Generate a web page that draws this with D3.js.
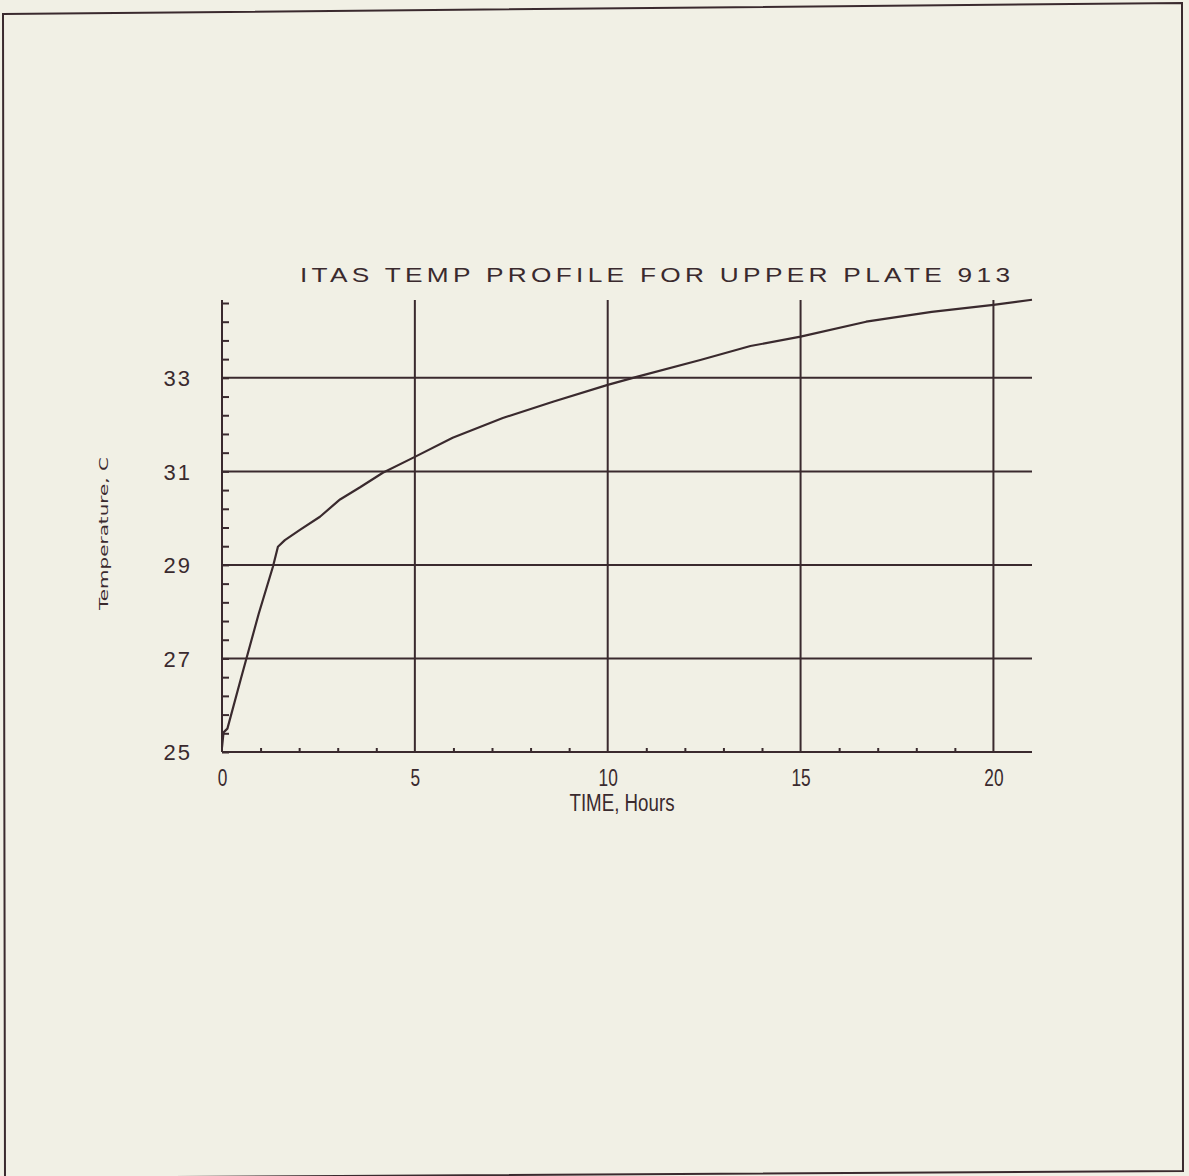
<!DOCTYPE html>
<html>
<head>
<meta charset="utf-8">
<script src="https://cdn.jsdelivr.net/npm/d3@7"></script>
<style>
  html, body { margin: 0; padding: 0; background: #f1f0e5; }
  svg { display: block; }
</style>
</head>
<body>
<svg id="chart" width="1189" height="1176"></svg>
<script>
// ---- data ----
const title = "ITAS TEMP PROFILE FOR UPPER PLATE 913";
const xLabel = "TIME, Hours";
const yLabel = "Temperature, C";
const timeHours = [0, 0.04, 0.14, 0.5, 0.95, 1.32, 1.45, 1.63, 2.02, 2.54, 3.06, 3.58, 4.17, 5.0, 5.98, 7.28, 8.58, 10.0, 10.75, 12.4, 13.7, 15.0, 16.7, 18.4, 20.0, 21.0];
const temperature = [25.1, 25.42, 25.5, 26.6, 27.95, 28.96, 29.39, 29.53, 29.75, 30.03, 30.4, 30.66, 30.97, 31.31, 31.72, 32.14, 32.49, 32.85, 33.02, 33.38, 33.68, 33.88, 34.2, 34.41, 34.56, 34.67];
const xMajorTicks = [0, 5, 10, 15, 20];
const xMinorTicks = d3.range(1, 21).filter(v => v % 5 !== 0);
const yMajorTicks = [25, 27, 29, 31, 33];
const yMinorTicks = d3.range(0, 25).map(i => +(25 + i * 0.4).toFixed(1));
const xGrid = [5, 10, 15, 20];
const yGrid = [27, 29, 31, 33];

// ---- drawing ----
const ink = "#3a2a2e";
const font = "'Liberation Sans', Arial, sans-serif";
const svg = d3.select("#chart");

// scanned page frame
svg.append("path")
  .attr("d", "M3,14 L1182,3 L1183,1171 L5,1178 Z")
  .attr("fill", "none").attr("stroke", ink).attr("stroke-width", 2);

const x = d3.scaleLinear().domain([0, 21]).range([222, 1032]);
const y = d3.scaleLinear().domain([25, 34.6]).range([752, 303]);
const yTop = 300;

// grid
svg.append("g").selectAll("line").data(yGrid).join("line")
  .attr("x1", x(0)).attr("x2", x(21))
  .attr("y1", d => y(d)).attr("y2", d => y(d))
  .attr("stroke", ink).attr("stroke-width", 2);
svg.append("g").selectAll("line").data(xGrid).join("line")
  .attr("x1", d => x(d)).attr("x2", d => x(d))
  .attr("y1", yTop).attr("y2", y(25))
  .attr("stroke", ink).attr("stroke-width", 2);

// axis lines
svg.append("line").attr("x1", x(0)).attr("x2", x(0)).attr("y1", yTop).attr("y2", y(25))
  .attr("stroke", ink).attr("stroke-width", 2);
svg.append("line").attr("x1", x(0)).attr("x2", x(21)).attr("y1", y(25)).attr("y2", y(25))
  .attr("stroke", ink).attr("stroke-width", 2);

// y minor ticks (inward)
const yTicksAxis = d3.axisRight(y).tickValues(yMinorTicks).tickSize(7).tickFormat("");
const gy = svg.append("g").attr("transform", `translate(${x(0)},0)`).call(yTicksAxis);
gy.select(".domain").remove();
gy.selectAll(".tick line").attr("stroke", ink).attr("stroke-width", 2);

// y labels
const yLabAxis = d3.axisLeft(y).tickValues(yMajorTicks).tickSize(0).tickPadding(30).tickFormat(d3.format("d"));
const gyl = svg.append("g").attr("transform", `translate(${x(0)},0)`).call(yLabAxis);
gyl.select(".domain").remove();
gyl.selectAll(".tick text")
  .attr("fill", ink).attr("font-family", font)
  .attr("font-size", 22).attr("letter-spacing", 2).attr("dy", "0.36em");

// x minor ticks (inward, up)
const xTicksAxis = d3.axisTop(x).tickValues(xMinorTicks).tickSize(4).tickFormat("");
const gx = svg.append("g").attr("transform", `translate(0,${y(25)})`).call(xTicksAxis);
gx.select(".domain").remove();
gx.selectAll(".tick line").attr("stroke", ink).attr("stroke-width", 2);

// x labels
const xLabAxis = d3.axisBottom(x).tickValues(xMajorTicks).tickSize(0).tickPadding(17).tickFormat(d3.format("d"));
const gxl = svg.append("g").attr("transform", `translate(0,${y(25)})`).call(xLabAxis);
gxl.select(".domain").remove();
gxl.selectAll(".tick text")
  .attr("fill", ink).attr("font-family", font)
  .attr("font-size", 24).attr("transform", "scale(0.72,1)");

// curve
const line = d3.line().x((d, i) => x(timeHours[i])).y(d => y(d)).curve(d3.curveLinear);
svg.append("path").datum(temperature)
  .attr("d", line).attr("fill", "none")
  .attr("stroke", ink).attr("stroke-width", 2.2).attr("stroke-linejoin", "round");

// title
svg.append("text").text(title)
  .attr("transform", "translate(300,282) scale(1.25,1)")
  .attr("font-family", font).attr("font-size", 21)
  .attr("fill", ink)
  .attr("textLength", 568).attr("lengthAdjust", "spacing");

// x label
svg.append("text").text(xLabel)
  .attr("transform", `translate(622,811) scale(0.78,1)`)
  .attr("text-anchor", "middle")
  .attr("font-family", font).attr("font-size", 24)
  .attr("fill", ink);

// y label
svg.append("text").text(yLabel)
  .attr("transform", `translate(108,610) rotate(-90)`)
  .attr("font-family", "'DejaVu Sans', sans-serif").attr("font-size", 13)
  .attr("fill", ink)
  .attr("textLength", 153).attr("lengthAdjust", "spacingAndGlyphs");
</script>
</body>
</html>
